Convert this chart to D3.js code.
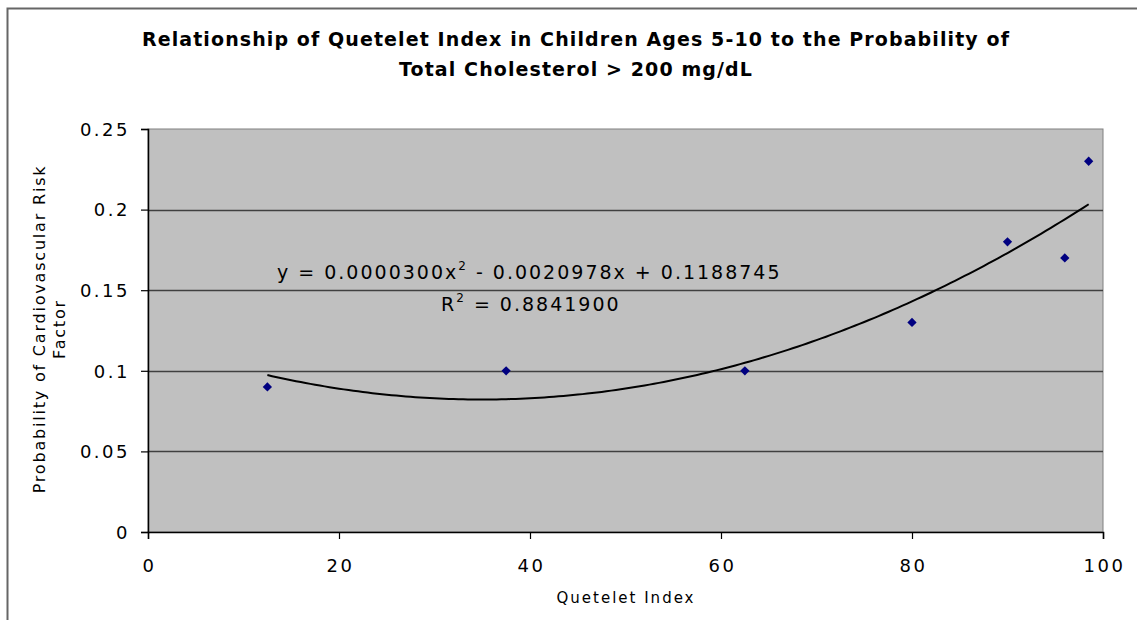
<!DOCTYPE html>
<html>
  <head>
    <meta charset="utf-8">
    <title>Quetelet Index vs Cholesterol</title>
    <script src="https://cdn.jsdelivr.net/npm/d3@7"></script>
    <style>
      html, body { margin: 0; padding: 0; background: #fff; }
      svg { display: block; font-family: "DejaVu Sans", Verdana, sans-serif; }
    </style>
  </head>
  <body>
    <div id="chart"></div>
    <script>
      // data
      var quetelet = [12.5, 37.5, 62.5, 80, 90, 96, 98.5];
      var probability = [0.09, 0.10, 0.10, 0.13, 0.18, 0.17, 0.23];
      // polynomial trendline coefficients (c2, c1, c0) as printed on the chart
      var trendCoef = [0.0000300, -0.0020978, 0.1188745];
      var rSquared = "0.8841900";
      var xTicks = [0, 20, 40, 60, 80, 100];
      var yTicks = [0, 0.05, 0.1, 0.15, 0.2, 0.25];

      var W = 1137, H = 620;
      var plot = {left: 148, top: 129, right: 1103, bottom: 532};

      var svg = d3.select("#chart").append("svg")
          .attr("width", W).attr("height", H);

      // outer chart border (right/bottom run off the picture)
      svg.append("rect")
          .attr("x", 7.5).attr("y", 8.5)
          .attr("width", W + 20).attr("height", H + 20)
          .attr("fill", "none").attr("stroke", "#666").attr("stroke-width", 2);

      var x = d3.scaleLinear().domain([0, 100]).range([plot.left, plot.right]);
      var y = d3.scaleLinear().domain([0, 0.25]).range([plot.bottom, plot.top]);

      // plot area
      svg.append("rect")
          .attr("x", plot.left).attr("y", plot.top)
          .attr("width", plot.right - plot.left).attr("height", plot.bottom - plot.top)
          .attr("fill", "#c0c0c0").attr("stroke", "#808080").attr("stroke-width", 1);

      // horizontal gridlines
      svg.append("g").selectAll("line")
          .data(yTicks.filter(function (d) { return d > 0 && d < 0.25; }))
          .enter().append("line")
          .attr("x1", plot.left).attr("x2", plot.right)
          .attr("y1", function (d) { return Math.round(y(d)) + 0.5; })
          .attr("y2", function (d) { return Math.round(y(d)) + 0.5; })
          .attr("stroke", "#404040").attr("stroke-width", 1.5);

      // axes
      var xAxis = d3.axisBottom(x).tickValues(xTicks).tickSize(7).tickFormat(d3.format("d"));
      var yAxis = d3.axisLeft(y).tickValues(yTicks).tickSize(7)
          .tickFormat(function (d) { return d === 0 ? "0" : String(+d.toFixed(2)); });

      var gx = svg.append("g").attr("transform", "translate(0," + plot.bottom + ")").call(xAxis);
      var gy = svg.append("g").attr("transform", "translate(" + plot.left + ",0)").call(yAxis);

      [gx, gy].forEach(function (g) {
        g.select(".domain").attr("stroke", "#000").attr("stroke-width", 1.5);
        g.selectAll(".tick line").attr("stroke", "#000").attr("stroke-width", 1.2);
        g.selectAll(".tick text").attr("fill", "#000").attr("font-size", 18)
          .attr("letter-spacing", 2.5)
          .attr("font-family", "DejaVu Sans, sans-serif");
      });
      gx.selectAll(".tick text").attr("y", 0).attr("dy", 40).attr("dx", 1);
      gy.selectAll(".tick text").attr("x", -18).attr("dy", "0.35em");

      // trendline, drawn through the library's scales
      var trendX = d3.range(12.5, 98.51, 0.5);
      var trend = d3.line()
          .x(function (d) { return x(d); })
          .y(function (d) { return y(trendCoef[0] * d * d + trendCoef[1] * d + trendCoef[2]); });
      svg.append("path")
          .datum(trendX)
          .attr("d", trend)
          .attr("fill", "none").attr("stroke", "#000").attr("stroke-width", 2);

      // data markers (diamonds)
      svg.append("g").selectAll("path")
          .data(quetelet)
          .enter().append("path")
          .attr("transform", function (d, i) { return "translate(" + x(d) + "," + y(probability[i]) + ")"; })
          .attr("d", d3.symbol().type(d3.symbolDiamond2).size(55))
          .attr("fill", "#000080");

      // equation label
      var eq = svg.append("text")
          .attr("x", 277).attr("y", 279)
          .attr("font-size", 19).attr("letter-spacing", 2).attr("fill", "#000");
      eq.append("tspan").text("y = 0.0000300x");
      eq.append("tspan").attr("dy", -9).attr("font-size", 12).text("2");
      eq.append("tspan").attr("dy", 9).text(" - 0.0020978x + 0.1188745");

      var r2 = svg.append("text")
          .attr("x", 441).attr("y", 311)
          .attr("font-size", 19).attr("letter-spacing", 2).attr("fill", "#000");
      r2.append("tspan").text("R");
      r2.append("tspan").attr("dy", -9).attr("font-size", 12).text("2");
      r2.append("tspan").attr("dy", 9).text(" = " + rSquared);

      // title
      var title = svg.append("text")
          .attr("text-anchor", "middle")
          .attr("font-size", 19).attr("letter-spacing", 1.1)
          .attr("font-weight", "bold").attr("fill", "#000");
      title.append("tspan").attr("x", 576).attr("y", 46)
          .text("Relationship of Quetelet Index in Children Ages 5-10 to the Probability of");
      title.append("tspan").attr("x", 576).attr("y", 76)
          .text("Total Cholesterol > 200 mg/dL");

      // axis titles
      svg.append("text")
          .attr("x", 626).attr("y", 603)
          .attr("text-anchor", "middle").attr("font-size", 15)
          .attr("letter-spacing", 2).attr("fill", "#000")
          .text("Quetelet Index");

      var ytitle = svg.append("text")
          .attr("transform", "translate(0,329) rotate(-90)")
          .attr("text-anchor", "middle").attr("font-size", 16)
          .attr("letter-spacing", 1.8).attr("fill", "#000");
      ytitle.append("tspan").attr("x", 0).attr("y", 45).text("Probability of Cardiovascular Risk");
      ytitle.append("tspan").attr("x", 0).attr("y", 65).text("Factor");
    </script>
  </body>
</html>
